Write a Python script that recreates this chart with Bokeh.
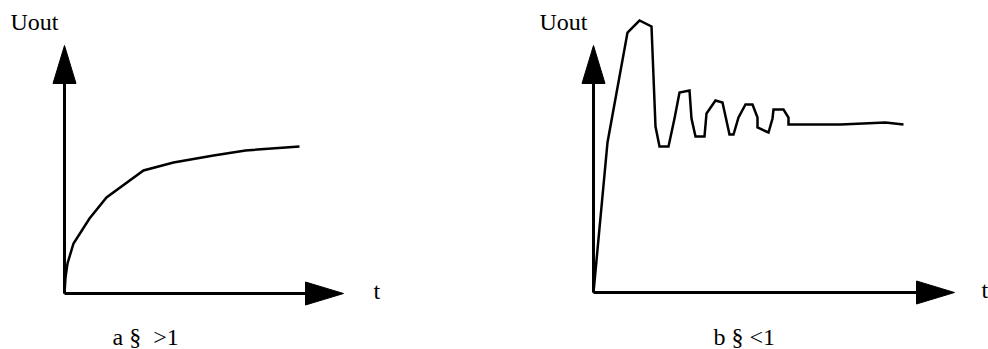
from bokeh.plotting import figure
from bokeh.layouts import row
from bokeh.models import Range1d
from bokeh.core.properties import value
from bokeh.embed import file_html
from bokeh.resources import INLINE

# ---- data (arbitrary units) ----
t_a = [0, 1, 3, 9, 25, 42, 79, 109, 149, 181, 235]
u_a = [0, 16, 30, 50, 75, 96, 123, 131, 138, 143, 147]

t_b = [0, 14, 34, 46, 58, 62, 66, 75, 81, 86, 96, 98, 102, 111, 113, 122, 129,
       136, 140, 145, 152, 159, 164, 164, 175, 179, 180, 190, 195, 195, 247, 292, 310]
u_b = [0, 150, 260, 272, 266, 166, 146, 146, 174, 200, 202, 174, 156, 156, 179, 192, 190,
       158, 158, 175, 188, 188, 175, 165, 160, 174, 183, 183, 175, 168, 168, 170, 168]

y_label = "Uout"
x_label = "t"
caption_a = "a\u00a0\u00a7\u00a0\u00a0>1"
caption_b = "b\u00a0\u00a7\u00a0<1"

FONT = "Liberation Serif"
FS = "24px"
H = 349
HEAD_L = 38
HEAD_W = 11.5
DY = 8  # compensation for the renderer's baseline placement


def make_panel(width, x0, y0, t, u, x_tip, y_tip, cap, cap_x, cap_y, tx, ylab_x):
    p = figure(width=width, height=H, output_backend="svg", toolbar_location=None,
               x_range=Range1d(-x0, width - x0), y_range=Range1d(-(H - y0), y0),
               min_border=0, min_border_left=0, min_border_right=0,
               min_border_top=0, min_border_bottom=0)
    p.axis.visible = False
    p.grid.visible = False
    p.outline_line_color = None
    p.background_fill_color = "white"
    p.border_fill_color = "white"

    # axes shafts
    p.line([0, 0], [0, y_tip - HEAD_L], line_color="black", line_width=3)
    p.line([0, x_tip - HEAD_L], [0, 0], line_color="black", line_width=3)
    # arrow heads
    p.patch([-HEAD_W, HEAD_W, 0], [y_tip - HEAD_L, y_tip - HEAD_L, y_tip],
            fill_color="black", line_color="black", line_width=1)
    p.patch([x_tip - HEAD_L, x_tip - HEAD_L, x_tip], [-HEAD_W, HEAD_W, 0],
            fill_color="black", line_color="black", line_width=1)

    # curve
    p.line(t, u, line_color="black", line_width=2.5, line_join="miter")

    # texts
    p.text(x=[ylab_x, tx, cap_x], y=[y_tip + 16 + DY, -5 + DY, cap_y + DY],
           text=[y_label, x_label, cap],
           text_font=value(FONT), text_font_size=FS, text_color="black",
           text_baseline="alphabetic", text_align="left")
    return p


p1 = make_panel(490, 64, 293, t_a, u_a, 279, 248, caption_a, 48, -51, 309, -54)
p2 = make_panel(498, 103, 292, t_b, u_b, 361, 247, caption_b, 120, -52, 388, -54)

layout = row(p1, p2, spacing=0)
open("out.html", "w").write(file_html(layout, INLINE))
